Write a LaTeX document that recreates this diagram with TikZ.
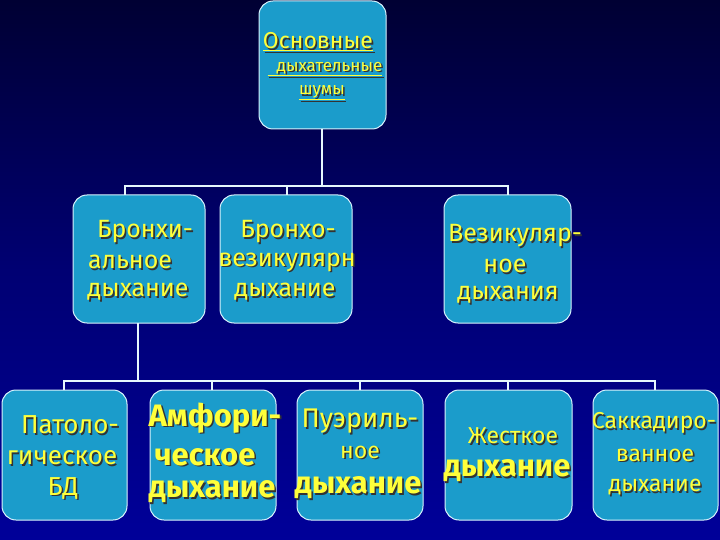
\documentclass[tikz,border=0pt]{standalone}
\usepackage{fontspec}
\setmainfont{Fira Sans}
\usetikzlibrary{calc}
\definecolor{boxc}{HTML}{1B9CCB}
\definecolor{yel}{HTML}{FFFF3A}
\tikzset{
  box/.style={draw=white!85!cyan, line width=1pt, fill=boxc, rounded corners=14pt},
  conn/.style={draw=white!90!cyan, line width=1.2pt},
}
\newcommand\yt[4]{% name, pos, size, text
  \node[text=black!80, inner sep=0] at ($(#2)+(1.6,1.6)$) {\fontsize{#3}{#3}\selectfont #4};
  \node[text=yel, inner sep=0] (#1) at (#2) {\fontsize{#3}{#3}\selectfont #4};}
\begin{document}
\begin{tikzpicture}[x=1pt,y=-1pt]
\shade[top color=black!80!blue, bottom color=blue!60!black, middle color=blue!45!black] (0,0) rectangle (720,540);
\useasboundingbox (0,0) rectangle (720,540);
% boxes
\path[box] (259,1) rectangle (386,129);
\coordinate (top) at (322,129);
\path[box] (73,195) rectangle (205,323);
\path[box] (220,195) rectangle (352,323);
\path[box] (444,195) rectangle (571,323);
\path[box] (2,390) rectangle (127,520);
\path[box] (150,390) rectangle (276,520);
\path[box] (297,390) rectangle (423,520);
\path[box] (445,390) rectangle (572,520);
\path[box] (593,390) rectangle (718,520);
% connectors
\coordinate (h1) at (322,186);
\coordinate (m1) at (138,323);
\coordinate (h2) at (138,381);
\draw[conn] (top) -- (h1);
\draw[conn] (125,195) -- (125,186) -- (508,186) -- (508,195);
\draw[conn] (287,186) -- (287,195);
\draw[conn] (m1) -- (h2);
\draw[conn] (64,390) -- (64,381) -- (655,381) -- (655,390);
\foreach \x in {212,360,508} \draw[conn] (\x,381) -- (\x,390);
% texts
\yt{t1}{318,42}{23}{\underline{Основные}}
\yt{t2}{325,69}{17}{\underline{\ \ дыхательные}}
\yt{t3}{322,93}{17}{\underline{шумы}}
\yt{a1}{145,232}{25}{Бронхи-}
\yt{a2}{130,262}{25}{альное}
\yt{a3}{138,292}{25}{дыхание}
\yt{b1}{288,232}{25}{Бронхо-}
\yt{b2}{287,262}{25}{везикулярн}
\yt{b3}{285,292}{25}{дыхание}
\yt{c1}{515,236}{25}{Везикуляр-}
\yt{c2}{505,266}{25}{ное}
\yt{c3}{508,295}{25}{дыхания}
\yt{d1}{70,425}{26}{Патоло-}
\yt{d2}{62,458}{26}{гическое}
\yt{d3}{63,488}{26}{БД}
\yt{e1}{215,418}{31}{\bfseries Амфори-}
\yt{e2}{205,457}{31}{\bfseries ческое}
\yt{e3}{212,492}{31}{\bfseries дыхание}
\yt{f1}{360,421}{27}{Пуэриль-}
\yt{f2}{360,452}{23}{ное}
\yt{f3}{358,488}{31}{\bfseries дыхание}
\yt{g1}{513,436}{23}{Жесткое}
\yt{g2}{507,471}{31}{\bfseries дыхание}
\yt{k1}{654,423}{23}{Саккадиро-}
\yt{k2}{655,455}{23}{ванное}
\yt{k3}{655,487}{23}{дыхание}
\end{tikzpicture}
\end{document}
